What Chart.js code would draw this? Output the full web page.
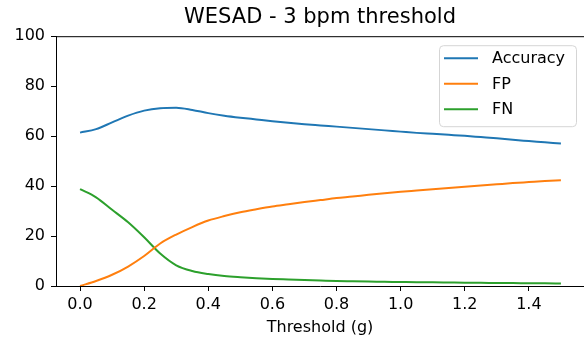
<!DOCTYPE html>
<html>
<head>
<meta charset="utf-8">
<script src="https://cdn.jsdelivr.net/npm/chart.js@4"></script>
<style>
  html, body { margin: 0; padding: 0; background: #fff; overflow: hidden; }
  #wrap { width: 584px; height: 341px; }
</style>
</head>
<body>
<div id="wrap"><canvas id="chart"></canvas></div>
<script>
const thresholds = [0.00, 0.05, 0.10, 0.15, 0.20, 0.25, 0.30, 0.35, 0.40, 0.45, 0.50,
  0.55, 0.60, 0.65, 0.70, 0.75, 0.80, 0.85, 0.90, 0.95, 1.00,
  1.05, 1.10, 1.15, 1.20, 1.25, 1.30, 1.35, 1.40, 1.45, 1.50];
const accuracy = [61.4, 62.8, 65.5, 68.2, 70.2, 71.2, 71.4, 70.5, 69.2, 68.2, 67.4,
  66.7, 66.0, 65.4, 64.8, 64.3, 63.8, 63.3, 62.8, 62.3, 61.8,
  61.3, 60.9, 60.5, 60.1, 59.6, 59.1, 58.5, 58.0, 57.5, 57.0];
const fp = [0.0, 2.0, 4.5, 7.8, 12.0, 17.0, 20.6, 23.6, 26.2, 28.0, 29.5,
  30.7, 31.8, 32.7, 33.6, 34.4, 35.2, 35.8, 36.5, 37.1, 37.7,
  38.2, 38.7, 39.2, 39.7, 40.2, 40.7, 41.2, 41.6, 42.0, 42.3];
const fn = [38.8, 35.5, 30.5, 25.5, 19.5, 13.0, 8.3, 6.0, 4.8, 4.0, 3.5,
  3.1, 2.8, 2.6, 2.4, 2.2, 2.0, 1.9, 1.8, 1.7, 1.6,
  1.5, 1.5, 1.4, 1.3, 1.3, 1.2, 1.2, 1.1, 1.1, 1.0];
const xTicks = [0.0, 0.2, 0.4, 0.6, 0.8, 1.0, 1.2, 1.4];
const seriesNames = ["Accuracy", "FP", "FN"];
const seriesColors = ["#1f77b4", "#ff7f0e", "#2ca02c"];

const FONT = "'DejaVu Sans', sans-serif";

function toPoints(ys) {
  return thresholds.map((x, i) => ({ x: x, y: ys[i] }));
}

// matplotlib style: top spine + legend box inside the axes
const extras = {
  id: "extras",
  afterDraw(chart) {
    const ctx = chart.ctx;
    const a = chart.chartArea;
    ctx.save();
    ctx.strokeStyle = "#000";
    ctx.lineWidth = 1;
    ctx.beginPath();
    ctx.moveTo(a.left, a.top + 0.5);
    ctx.lineTo(a.right, a.top + 0.5);
    ctx.stroke();

    // legend
    const w = 137, h = 81;
    const bx = a.right - 8 - w, by = a.top + 9;
    ctx.fillStyle = "rgba(255,255,255,0.8)";
    ctx.strokeStyle = "#d5d5d5";
    ctx.beginPath();
    ctx.roundRect(bx + 0.5, by + 0.5, w, h, 4);
    ctx.fill();
    ctx.stroke();
    ctx.font = "16px " + FONT;
    ctx.textBaseline = "middle";
    chart.data.datasets.forEach((ds, i) => {
      const y = by + 13 + i * 25.5;
      ctx.strokeStyle = ds.borderColor;
      ctx.lineWidth = 2;
      ctx.beginPath();
      ctx.moveTo(bx + 5, y);
      ctx.lineTo(bx + 39, y);
      ctx.stroke();
      ctx.fillStyle = "#000";
      ctx.fillText(ds.label, bx + 53, y + 1);
    });
    ctx.restore();
  }
};

new Chart(document.getElementById("chart"), {
  type: "line",
  data: {
    datasets: seriesNames.map((name, i) => ({
      label: name,
      data: toPoints([accuracy, fp, fn][i]),
      borderColor: seriesColors[i],
      backgroundColor: seriesColors[i],
      borderWidth: 2,
      pointRadius: 0,
      cubicInterpolationMode: "monotone"
    }))
  },
  options: {
    responsive: true,
    maintainAspectRatio: false,
    animation: false,
    layout: { padding: { left: 0, right: 0, top: 0, bottom: 0 } },
    plugins: {
      legend: { display: false },
      tooltip: { enabled: false },
      title: {
        display: true,
        fullSize: false,
        text: "WESAD - 3 bpm threshold",
        color: "#000",
        font: { family: FONT, size: 21, weight: "normal", lineHeight: 1.2 },
        padding: { top: 5, bottom: 6 }
      }
    },
    scales: {
      x: {
        type: "linear",
        min: -0.075,
        max: 1.572,
        afterBuildTicks(scale) {
          scale.ticks = xTicks.map(v => ({ value: v }));
        },
        afterFit(scale) { scale.height = 55; },
        ticks: {
          color: "#000",
          font: { family: FONT, size: 16 },
          padding: 4,
          maxRotation: 0,
          callback: v => Number(v).toFixed(1)
        },
        grid: { display: true, drawOnChartArea: false, drawTicks: true, tickLength: 5, color: "#000" },
        border: { display: true, color: "#000", width: 1 },
        title: {
          display: true,
          text: "Threshold (g)",
          color: "#000",
          font: { family: FONT, size: 16 },
          padding: { top: 0, bottom: 4 }
        }
      },
      y: {
        min: 0,
        max: 100,
        afterFit(scale) { scale.width = 56; },
        ticks: {
          stepSize: 20,
          color: "#000",
          font: { family: FONT, size: 16 },
          padding: 6
        },
        grid: { display: true, drawOnChartArea: false, drawTicks: true, tickLength: 5, color: "#000" },
        border: { display: true, color: "#000", width: 1 }
      }
    }
  },
  plugins: [extras]
});
</script>
</body>
</html>
